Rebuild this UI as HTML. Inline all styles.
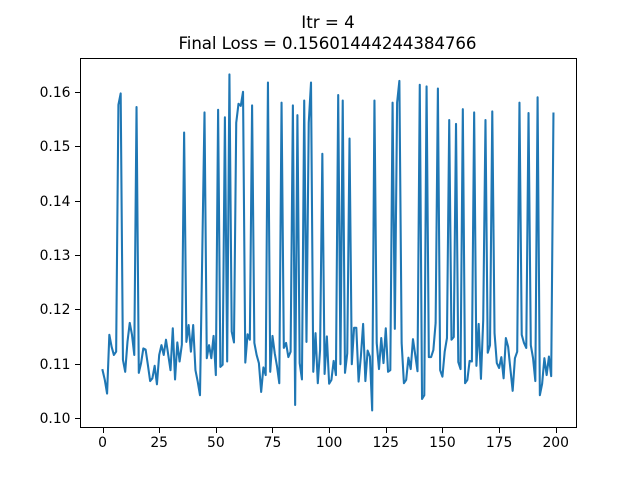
<!DOCTYPE html>
<html lang="en">
<head>
<meta charset="utf-8">
<title>Itr = 4</title>
<style>
html,body{margin:0;padding:0;background:#fff;width:640px;height:480px;overflow:hidden}
svg{display:block}
text{font-family:"DejaVu Sans","Liberation Sans",sans-serif;fill:#000}
</style>
</head>
<body>
<svg id="chart" xmlns="http://www.w3.org/2000/svg" width="640" height="480" viewBox="0 0 640 480">
<rect x="0" y="0" width="640" height="480" fill="#fff"/>
<text x="328" y="28" text-anchor="middle" font-size="16.67">Itr = 4</text>
<text x="327.5" y="49" text-anchor="middle" font-size="16.67" textLength="298" lengthAdjust="spacing">Final Loss = 0.15601444244384766</text>
<g id="ticks"></g>
<g id="series"></g>
<g id="spines"></g>
</svg>
<script>
const xTickLabels = [0, 25, 50, 75, 100, 125, 150, 175, 200];
const yTickLabels = ["0.10", "0.11", "0.12", "0.13", "0.14", "0.15", "0.16"];
const lossValues = [
0.1088,0.1070,0.1045,0.1153,0.1131,0.1116,0.1122,0.1576,0.1597,0.1107,
0.1085,0.1140,0.1175,0.1153,0.1116,0.1572,0.1083,0.1101,0.1128,0.1126,
0.1098,0.1068,0.1073,0.1096,0.1062,0.1116,0.1134,0.1116,0.1144,0.1116,
0.1088,0.1165,0.1071,0.1139,0.1104,0.1135,0.1525,0.1140,0.1171,0.1122,
0.1171,0.1088,0.1067,0.1042,0.1300,0.1562,0.1110,0.1134,0.1110,0.1151,
0.1079,0.1567,0.1094,0.1098,0.1553,0.1104,0.1632,0.1159,0.1139,0.1543,
0.1578,0.1574,0.1600,0.1102,0.1154,0.1144,0.1575,0.1138,0.1116,0.1101,
0.1048,0.1093,0.1079,0.1617,0.1085,0.1151,0.1119,0.1095,0.1064,0.1580,
0.1129,0.1138,0.1112,0.1122,0.1575,0.1024,0.1557,0.1101,0.1071,0.1584,
0.1140,0.1543,0.1617,0.1085,0.1156,0.1064,0.1125,0.1486,0.1081,0.1150,
0.1063,0.1070,0.1105,0.1079,0.1594,0.1099,0.1584,0.1083,0.1119,0.1514,
0.1099,0.1166,0.1166,0.1067,0.1113,0.1173,0.1068,0.1124,0.1113,0.1014,
0.1584,0.1138,0.1090,0.1147,0.1101,0.1165,0.1085,0.1088,0.1580,0.1164,
0.1580,0.1620,0.1138,0.1064,0.1070,0.1111,0.1090,0.1145,0.1116,0.1086,
0.1613,0.1035,0.1042,0.1610,0.1112,0.1112,0.1125,0.1175,0.1606,0.1088,
0.1076,0.1122,0.1147,0.1548,0.1144,0.1149,0.1541,0.1103,0.1090,0.1568,
0.1064,0.1070,0.1105,0.1104,0.1562,0.1096,0.1173,0.1072,0.1180,0.1548,
0.1120,0.1134,0.1564,0.1156,0.1101,0.1092,0.1112,0.1073,0.1147,0.1131,
0.1090,0.1050,0.1110,0.1122,0.1580,0.1153,0.1138,0.1129,0.1561,0.1134,
0.1110,0.1068,0.1590,0.1042,0.1063,0.1110,0.1079,0.1113,0.1077,0.1560
];

const plot = {left: 80, right: 576, top: 57.6, bottom: 427.2};
const lastIndex = lossValues.length - 1;
const xPad = lastIndex * 0.05;
const yMin = Math.min.apply(null, lossValues);
const yMax = Math.max.apply(null, lossValues);
const yPad = (yMax - yMin) * 0.05;
function xScale(v) {
  return plot.left + (v + xPad) / (lastIndex + 2 * xPad) * (plot.right - plot.left);
}
function yScale(v) {
  return plot.bottom - (v - (yMin - yPad)) / (yMax - yMin + 2 * yPad) * (plot.bottom - plot.top);
}
const NS = 'http://www.w3.org/2000/svg';
function make(tag, attrs, parent) {
  const el = document.createElementNS(NS, tag);
  for (const k in attrs) el.setAttribute(k, attrs[k]);
  parent.appendChild(el);
  return el;
}
const ticksG = document.getElementById('ticks');
const seriesG = document.getElementById('series');
const spinesG = document.getElementById('spines');

xTickLabels.forEach(function (t) {
  const px = Math.round(xScale(t)) + 0.5;
  const mark = make('line', {x1: px, x2: px, y1: 428, y2: 433, stroke: '#000', 'stroke-width': 1}, ticksG);
  
  
  const label = make('text', {x: xScale(t), y: 447, 'text-anchor': 'middle', 'font-size': 13.89}, ticksG);
  label.textContent = String(t);
  
  
});

yTickLabels.forEach(function (t) {
  const v = parseFloat(t);
  const py = Math.round(yScale(v)) + 0.5;
  const mark = make('line', {x1: 75, x2: 80, y1: py, y2: py, stroke: '#000', 'stroke-width': 1}, ticksG);
  
  
  const label = make('text', {x: 70.5, y: Math.round(yScale(v)) + 5, 'text-anchor': 'end', 'font-size': 13.89}, ticksG);
  label.textContent = t;
  
  
});

const linePath = lossValues.map(function (v, i) {
  return (i ? 'L' : 'M') + xScale(i).toFixed(2) + ' ' + yScale(v).toFixed(2);
}).join('');
const lossLine = make('path', {d: linePath, fill: 'none', stroke: '#1f77b4', 'stroke-width': 2.08, 'stroke-linejoin': 'round', 'stroke-linecap': 'square'}, seriesG);



const frame = make('rect', {x: 80.5, y: 58.5, width: 496, height: 369, fill: 'none', stroke: '#000', 'stroke-width': 1}, spinesG);


</script>
</body>
</html>
